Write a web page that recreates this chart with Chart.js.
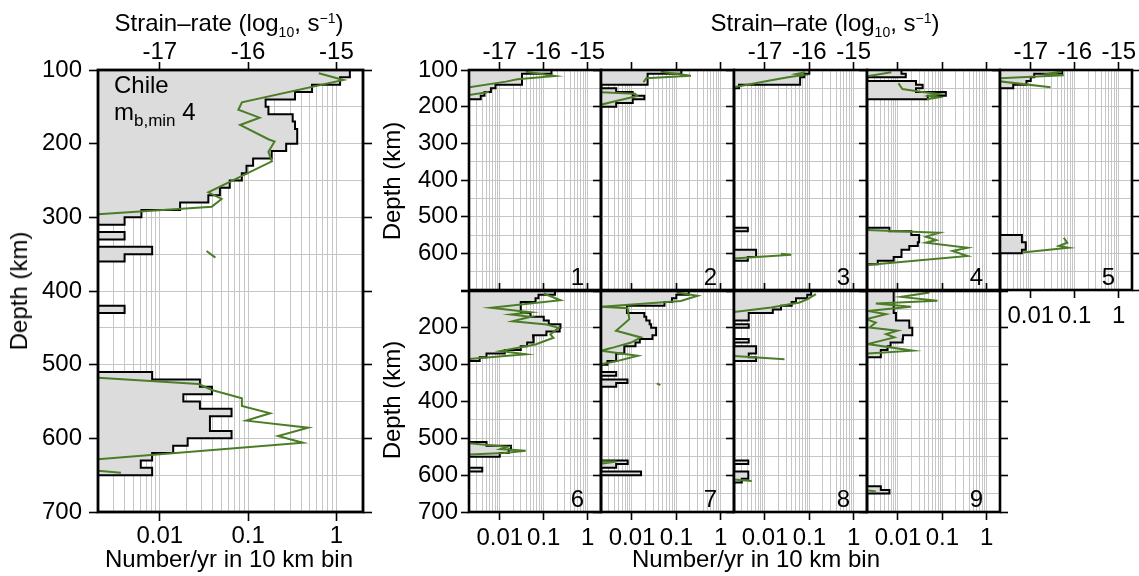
<!DOCTYPE html>
<html><head><meta charset="utf-8">
<script src="https://cdn.jsdelivr.net/npm/chart.js@4.4.1/dist/chart.umd.min.js"></script>
<style>
html,body{margin:0;padding:0;background:#fff;}
#wrap{position:relative;width:1139px;height:576px;overflow:hidden;font-family:'Liberation Sans',Arial,Helvetica,sans-serif;color:#000;}
canvas{position:absolute;left:0;top:0;}
.t{position:absolute;font-size:24px;line-height:24px;white-space:nowrap;z-index:10;}
.c{transform:translateX(-50%);}
.r{transform:translate(-50%,-50%) rotate(-90deg);}
.sb{font-size:14px;position:relative;top:6px;}
.sp{font-size:14px;position:relative;top:-8px;}
.sb2{font-size:17px;position:relative;top:6px;}
</style></head><body>
<div id="wrap">
  <div class="t c" style="left:229px;top:11px;">Strain–rate (log<span class="sb">10</span>, s<span class="sp">−1</span>)</div>
  <div class="t c" style="left:825px;top:11px;">Strain–rate (log<span class="sb">10</span>, s<span class="sp">−1</span>)</div>
  <div class="t c" style="left:229px;top:547px;">Number/yr in 10 km bin</div>
  <div class="t c" style="left:756px;top:547px;">Number/yr in 10 km bin</div>
  <div class="t r" style="left:19px;top:291px;">Depth (km)</div>
  <div class="t r" style="left:392px;top:181px;">Depth (km)</div>
  <div class="t r" style="left:392px;top:400px;">Depth (km)</div>
  <div class="t" style="left:114px;top:73px;">Chile</div>
  <div class="t" style="left:114px;top:100px;">m<span class="sb2">b,min</span> 4</div>
</div>
<script>
// ---------------- data ----------------
const XMIN = 0.002, XMAX = 2;          // Number/yr axis limits
const STRAIN_SHIFT = 15;               // strain-rate log10 = log10(number/yr) - 15 on this figure
const BIN = 10;                        // km
const countTicks = [0.002,0.003,0.004,0.005,0.006,0.007,0.008,0.009,0.01,0.02,0.03,0.04,0.05,0.06,0.07,0.08,0.09,0.1,0.2,0.3,0.4,0.5,0.6,0.7,0.8,0.9,1,2];
const countMajor = [0.01, 0.1, 1];
const countMajorLabels = ['0.01', '0.1', '1'];
const strainTicks = [-17, -16, -15];
const strainTickLabels = ['-17', '-16', '-15'];
const depthGrid = [100,150,200,250,300,350,400,450,500,550,600,650,700];
const depthMajor = [100,200,300,400,500,600,700];

// Chile (all)
const chileBinTop  = [100,110,120,130,140,150,160,170,180,190,200,210,220,230,240,250,260,270,280,290,300,320,340,350,420,510,520,530,540,550,560,570,580,590,600,610,620,630,640];
const chileBinRate = [1.42,1.1,0.53,0.34,0.158,0.17,0.32,0.34,0.36,0.36,0.27,0.185,0.114,0.096,0.085,0.062,0.048,0.0355,0.017,0.0062,0.004,0.004,0.0082,0.004,0.004,0.0082,0.0285,0.039,0.0185,0.0285,0.065,0.037,0.037,0.065,0.0207,0.0142,0.0082,0.0061,0.0082];
const chileGreenDepth  = [104.5,113.6,143.9,154,164.7,174.6,194,197,211,224,266,275,285.5,300,310,345.6,354.7,360,516,526.2,534.4,545.7,556,566,576,585.5,596.8,605.9,628.5,632,636,638,646.6];
const chileGreenStrain = [-15.20,-14.92,-16.07,-16.11,-15.87,-16.09,-15.77,-15.70,-15.77,-15.73,-16.45,-16.30,-16.41,-18.2,null,-16.47,-16.37,null,-17.93,-16.56,-16.41,-16.07,-16.07,-15.75,-16.02,-15.32,-15.66,-15.38,-17.70,-18.06,null,-18.3,-17.44];

// panel 1
const p1BinTop  = [100,110,120,130,140,150,160,170];
const p1BinRate = [0.15,0.032,0.032,0.032,0.008,0.0063,0.0045,0.0037];
const p1GreenDepth  = [104.5,116.3,125.4,131.7,147,150,155,160,170];
const p1GreenStrain = [-16.41,-15.74,-16.60,-16.86,-17.69,-17.9,null,-17.25,-17.8];
// panel 2
const p2BinTop  = [100,110,120,130,150,160,170,180,190];
const p2BinRate = [0.13,0.0225,0.0225,0.0225,0.0044,0.0104,0.019,0.0104,0.0044];
const p2GreenDepth  = [104.5,115.4,122.6,133.5,140,160,165,171,195,197];
const p2GreenStrain = [-16.35,-15.67,-16.68,-16.74,null,-17.8,-16.93,-16.88,-17.72,-17.9];
// panel 3
const p3BinTop  = [100,110,120,130,140,530,590,600,610];
const p3BinRate = [0.1,0.077,0.062,0.062,0.0026,0.0041,0.0063,0.0063,0.0041];
const p3GreenDepth  = [106,111,114,119,127,148,152,580,601,604,614,617];
const p3GreenStrain = [-16.1,-16.3,-16.15,-16.45,-16.83,-17.75,-18.0,null,-16.64,-16.41,-17.72,-18.0];
// panel 4
const p4BinTop  = [100,110,130,140,150,160,170,530,540,550,560,570,580,590,600,610,620];
const p4BinRate = [0.012,0.015,0.0255,0.036,0.0255,0.12,0.047,0.0064,0.02,0.03,0.03,0.028,0.018,0.012,0.012,0.008,0.0035];
const p4GreenDepth  = [106,118,121,128,136,152,160,166,171,175,180,200,535,543.8,554.7,563.8,571,584.6,593.7,607.2,630,633];
const p4GreenStrain = [-17.15,-17.75,-17.95,null,-16.99,-16.9,-16.45,-16.05,-16.3,-16.1,-16.35,null,-18.0,-16.07,-16.37,-16.14,-16.37,-15.43,-15.77,-15.43,-17.5,-17.9];
// panel 5
const p5BinTop  = [100,110,120,130,140,550,560,570,580,590];
const p5BinRate = [0.052,0.012,0.01,0.008,0.004,0.0063,0.0063,0.0077,0.0077,0.0063];
const p5GreenDepth  = [104,110,114,123,126,131,147,150,557.4,571,580,584.6,598];
const p5GreenStrain = [-16.3,-16.6,-16.25,-17.75,null,-17.7,-16.55,null,-16.25,-16.17,-16.36,-16.14,-17.19];
// panel 6
const p6BinTop  = [100,110,120,130,140,150,160,170,180,190,200,210,220,230,240,250,260,270,280,510,520,530,540,580];
const p6BinRate = [0.18,0.076,0.065,0.03,0.03,0.03,0.05,0.1,0.13,0.24,0.23,0.115,0.057,0.06,0.042,0.03,0.013,0.005,0.0035,0.005,0.018,0.016,0.01,0.004];
const p6GreenDepth  = [106.8,125,145.7,157.5,163.8,170,182,191,200,218,227,245,263,272,285,288,300,513,523,529,534,540,544,546];
const p6GreenStrain = [-16.0,-15.62,-17.2,-16.3,-16.75,-16.3,-16.71,-15.93,-15.66,-15.85,-15.78,-16.19,-16.98,-16.41,-17.75,-18.0,null,-17.75,-16.83,-16.98,-16.41,-16.9,-17.75,-18.0];
// panel 7
const p7BinTop  = [100,110,120,130,140,150,160,170,180,190,200,210,220,230,240,250,260,270,280,290,320,340,350,560,570,590];
const p7BinRate = [0.19,0.1,0.08,0.054,0.0077,0.0077,0.019,0.021,0.025,0.027,0.035,0.035,0.029,0.015,0.012,0.0067,0.0067,0.0044,0.0044,0.0028,0.0044,0.0079,0.0044,0.008,0.0044,0.016];
const p7GreenDepth  = [104,113,127,143,146.6,176.5,208,226,240,255,262,276,291,297,300,320,351,355.7,360,561,563,572];
const p7GreenStrain = [-16.0,-15.52,-15.9,-17.7,-17.1,-17.06,-17.36,-16.8,-17.02,-17.47,-17.7,-16.87,-17.36,-17.62,-17.9,null,-16.44,-16.36,null,-18.2,-17.35,-17.9];
// panel 8
const p8BinTop  = [100,110,120,130,140,150,160,170,190,230,250,260,270,280,560,590,600,610];
const p8BinRate = [0.11,0.09,0.05,0.04,0.023,0.015,0.0043,0.0043,0.0043,0.0043,0.0063,0.0063,0.0043,0.0063,0.0042,0.0042,0.0042,0.003];
const p8GreenDepth  = [108.6,122,131,145,158,160,200,274,285,290,609,616];
const p8GreenStrain = [-15.85,-16.04,-16.22,-16.86,-17.75,-18.0,null,-18.0,-16.56,null,-18.0,-17.3];
// panel 9
const p9BinTop  = [100,110,120,130,140,150,160,170,180,190,200,210,220,230,240,250,260,270,630,640];
const p9BinRate = [0.008,0.008,0.008,0.008,0.008,0.008,0.009,0.009,0.018,0.018,0.021,0.021,0.013,0.0127,0.0068,0.0058,0.0041,0.0041,0.0041,0.0064];
const p9GreenDepth  = [104,116,126.7,134,143,154,163,176.5,185.5,199,208,217,226,244,262,270,272,300,636,644];
const p9GreenStrain = [-16.29,-16.93,-16.11,-17.5,-16.71,-17.68,-17.27,-17.72,-17.5,-17.64,-17.01,-17.27,-17.08,-17.68,-16.67,-17.68,-18.0,null,-18.0,-17.5];

// ---------------- layout ----------------
const W = 1139, H = 576;
const COLS = [[469,601],[601,734],[734,867],[867,1000],[1000,1132]];
const ROWS = [[70,290],[291,512]];
const FONT = {family: "'Liberation Sans', Arial, Helvetica, sans-serif", size: 24, lineHeight: 1};
const GRID = '#c6c6c6', GREEN = '#4a7d26', FILL = '#dcdcdc';
const SMIN = Math.log10(XMIN) - STRAIN_SHIFT, SMAX = Math.log10(XMAX) - STRAIN_SHIFT;

function box(c, r) { return {L: COLS[c][0], R: COLS[c][1], T: ROWS[r][0], B: ROWS[r][1]}; }
const panels = [
  Object.assign({L:98,T:70,R:363,B:512}, {tops:chileBinTop, rates:chileBinRate, gd:chileGreenDepth, gs:chileGreenStrain,
     yLabels:[100,200,300,400,500,600,700], topLabels:true, bottomLabels:true, bottomTicks:true, rightTicks:true, leftTL:9, leftPad:7, bottomTL:9, bottomPad:3, frame:2.8}),
  Object.assign(box(0,0), {tops:p1BinTop, rates:p1BinRate, gd:p1GreenDepth, gs:p1GreenStrain, num:'1', yLabels:[100,200,300,400,500,600], topLabels:true}),
  Object.assign(box(1,0), {tops:p2BinTop, rates:p2BinRate, gd:p2GreenDepth, gs:p2GreenStrain, num:'2', yLabels:[], topLabels:false}),
  Object.assign(box(2,0), {tops:p3BinTop, rates:p3BinRate, gd:p3GreenDepth, gs:p3GreenStrain, num:'3', yLabels:[], topLabels:true}),
  Object.assign(box(3,0), {tops:p4BinTop, rates:p4BinRate, gd:p4GreenDepth, gs:p4GreenStrain, num:'4', yLabels:[], topLabels:false}),
  Object.assign(box(4,0), {tops:p5BinTop, rates:p5BinRate, gd:p5GreenDepth, gs:p5GreenStrain, num:'5', yLabels:[], topLabels:true, bottomLabels:true, bottomTicks:true, rightTicks:true}),
  Object.assign(box(0,1), {tops:p6BinTop, rates:p6BinRate, gd:p6GreenDepth, gs:p6GreenStrain, num:'6', yLabels:[200,300,400,500,600,700], topLabels:false, bottomLabels:true, bottomTicks:true}),
  Object.assign(box(1,1), {tops:p7BinTop, rates:p7BinRate, gd:p7GreenDepth, gs:p7GreenStrain, num:'7', yLabels:[], topLabels:false, bottomLabels:true, bottomTicks:true}),
  Object.assign(box(2,1), {tops:p8BinTop, rates:p8BinRate, gd:p8GreenDepth, gs:p8GreenStrain, num:'8', yLabels:[], topLabels:false, bottomLabels:true, bottomTicks:true}),
  Object.assign(box(3,1), {tops:p9BinTop, rates:p9BinRate, gd:p9GreenDepth, gs:p9GreenStrain, num:'9', yLabels:[], topLabels:false, bottomLabels:true, bottomTicks:true, rightTicks:true})
];

function histPoints(tops, rates) {
  const pts = [];
  let prevEnd = null;
  for (let i = 0; i < tops.length; i++) {
    const s = tops[i], v = rates[i];
    if (prevEnd === null || Math.abs(s - prevEnd) > 1e-6) {
      if (prevEnd !== null) { pts.push({x: XMIN, y: prevEnd}); pts.push({x: null, y: (prevEnd + s) / 2}); }
      pts.push({x: XMIN, y: s});
    }
    pts.push({x: v, y: s});
    pts.push({x: v, y: s + BIN});
    prevEnd = s + BIN;
  }
  if (prevEnd !== null) pts.push({x: XMIN, y: prevEnd});
  return pts;
}

const framePlugin = {
  id: 'frame',
  afterDraw(chart) {
    const a = chart.chartArea, ctx = chart.ctx;
    ctx.save();
    ctx.strokeStyle = '#000';
    ctx.lineWidth = chart.options.plugins.frame.width;
    ctx.strokeRect(a.left, a.top, a.right - a.left, a.bottom - a.top);
    ctx.restore();
  }
};

const wrap = document.getElementById('wrap');
function zeroPad(s) { s.paddingLeft = 0; s.paddingRight = 0; s.paddingTop = 0; s.paddingBottom = 0; }

panels.forEach(P => {
  const cv = document.createElement('canvas');
  cv.width = W; cv.height = H;
  wrap.appendChild(cv);
  const WL = 90, HT = 50, HB = 50, WR = P.rightTicks ? 14 : 0;
  const leftTL = P.leftTL || 8, leftPad = (P.leftPad !== undefined) ? P.leftPad : 3;
  const bottomTL = P.bottomTL || 8, bottomPad = (P.bottomPad !== undefined) ? P.bottomPad : 6;
  const scales = {
    x: {
      type: 'logarithmic', position: 'bottom', min: XMIN, max: XMAX, bounds: 'data',
      afterBuildTicks: s => { s.ticks = countTicks.map(v => ({value: v})); },
      afterFit: s => { s.height = HB; zeroPad(s); },
      border: {display: false},
      grid: {color: GRID, lineWidth: 1, drawTicks: !!P.bottomTicks, tickLength: bottomTL, tickWidth: 1.6,
             tickColor: c => (c.tick && countMajor.includes(c.tick.value)) ? '#000' : 'rgba(0,0,0,0)'},
      ticks: {autoSkip: false, maxRotation: 0, minRotation: 0, padding: bottomPad, font: FONT, color: '#000',
              callback: v => { if (!P.bottomLabels) return ''; const k = countMajor.indexOf(v); return k >= 0 ? countMajorLabels[k] : ''; }}
    },
    x2: {
      type: 'linear', position: 'top', min: SMIN, max: SMAX, bounds: 'data',
      afterBuildTicks: s => { s.ticks = strainTicks.map(v => ({value: v})); },
      afterFit: s => { s.height = HT; zeroPad(s); },
      border: {display: false},
      grid: {drawOnChartArea: false, drawTicks: true, tickLength: 8, tickWidth: 1.6, tickColor: '#000'},
      ticks: {autoSkip: false, maxRotation: 0, minRotation: 0, padding: -2, font: FONT, color: '#000',
              callback: v => { if (!P.topLabels) return ''; const k = strainTicks.indexOf(v); return k >= 0 ? strainTickLabels[k] : ''; }}
    },
    y: {
      type: 'linear', position: 'left', reverse: true, min: 100, max: 700, bounds: 'data',
      afterBuildTicks: s => { s.ticks = depthGrid.map(v => ({value: v})); },
      afterFit: s => { s.width = WL; zeroPad(s); },
      border: {display: false},
      grid: {color: GRID, lineWidth: 1, drawTicks: true, tickLength: leftTL, tickWidth: 1.6,
             tickColor: c => (c.tick && depthMajor.includes(c.tick.value)) ? '#000' : 'rgba(0,0,0,0)'},
      ticks: {autoSkip: false, padding: leftPad, font: FONT, color: '#000',
              callback: v => P.yLabels.includes(v) ? String(v) : ''}
    }
  };
  if (P.rightTicks) {
    scales.yR = {
      type: 'linear', position: 'right', reverse: true, min: 100, max: 700, bounds: 'data',
      afterBuildTicks: s => { s.ticks = depthMajor.map(v => ({value: v})); },
      afterFit: s => { s.width = WR; zeroPad(s); },
      border: {display: false},
      grid: {drawOnChartArea: false, drawTicks: true, tickLength: leftTL, tickWidth: 1.6, tickColor: '#000'},
      ticks: {font: FONT, padding: 0, callback: () => ''}
    };
  }
  const green = P.gd.map((d, i) => ({x: P.gs[i], y: d}));
  new Chart(cv, {
    type: 'line',
    data: {datasets: [
      {label: 'strain rate', data: green, xAxisID: 'x2', yAxisID: 'y', borderColor: GREEN, borderWidth: 2,
       pointRadius: 0, fill: false, tension: 0, order: 0, spanGaps: false},
      {label: 'number/yr', data: histPoints(P.tops, P.rates), xAxisID: 'x', yAxisID: 'y', borderColor: '#000', borderWidth: 2,
       backgroundColor: FILL, fill: {value: XMIN}, pointRadius: 0, tension: 0, order: 1, spanGaps: false, borderJoinStyle: 'miter'}
    ]},
    options: {
      responsive: false, animation: false, devicePixelRatio: 1, indexAxis: 'y', events: [],
      layout: {autoPadding: false, padding: {left: P.L - WL, top: P.T - HT, right: W - P.R - WR, bottom: H - P.B - HB}},
      plugins: {legend: {display: false}, tooltip: {enabled: false}, title: {display: false}, frame: {width: P.frame || 2.6}},
      scales
    },
    plugins: [framePlugin]
  });
  if (P.num) {
    const d = document.createElement('div');
    d.className = 't';
    d.style.right = (W - (P.R - 17)) + 'px';
    d.style.top = (P.B - 5 - 20.3) + 'px';
    d.textContent = P.num;
    wrap.appendChild(d);
  }
});
</script>
</body></html>
